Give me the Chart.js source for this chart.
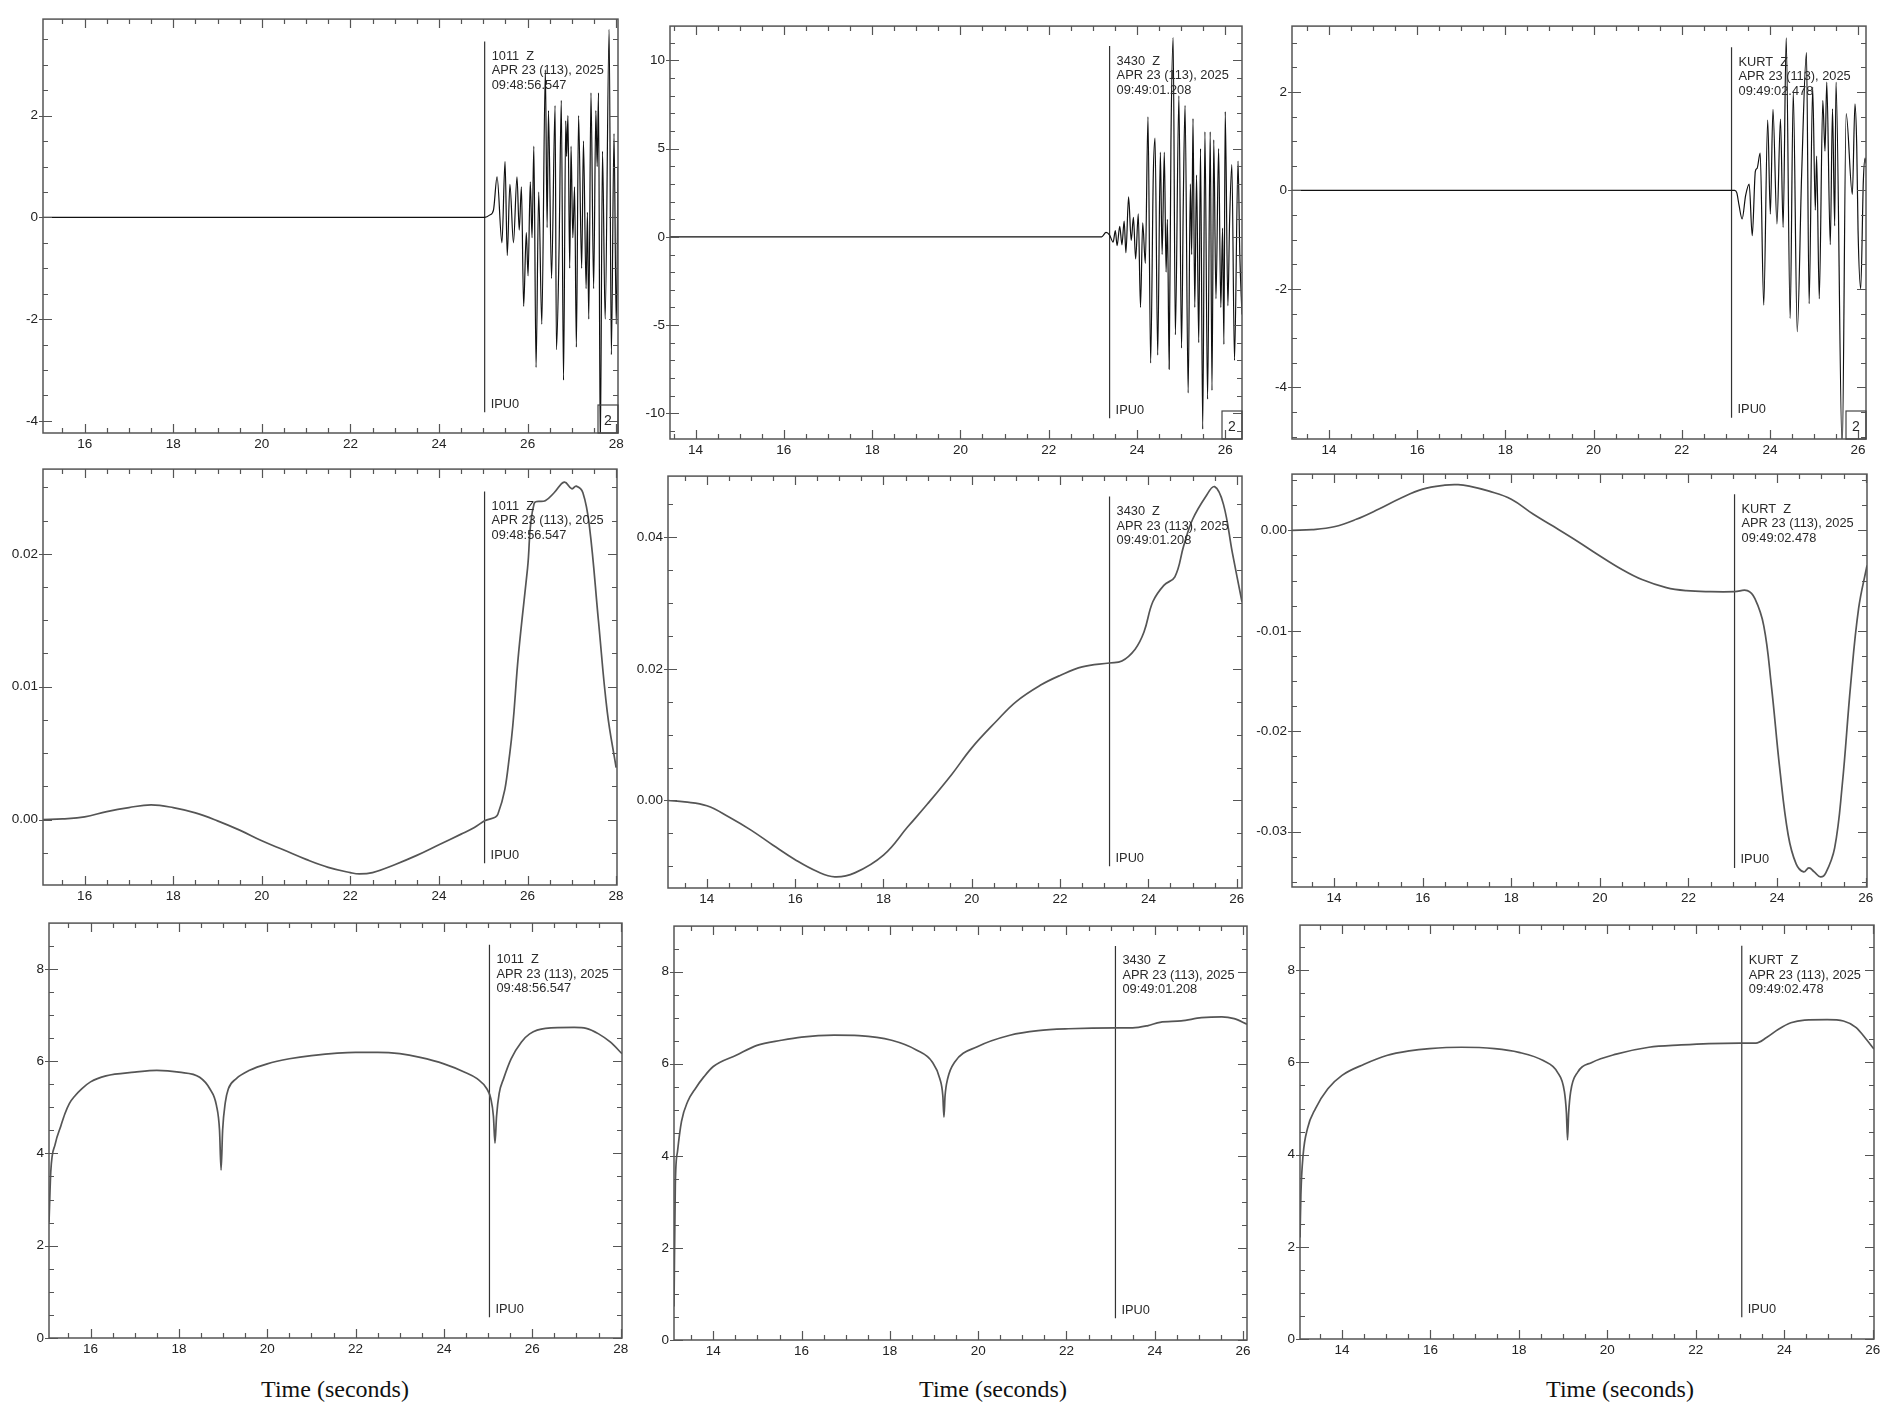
<!DOCTYPE html>
<html>
<head>
<meta charset="utf-8">
<script src="https://cdn.jsdelivr.net/npm/chart.js@4.4.1/dist/chart.umd.min.js"></script>
<style>
html,body{margin:0;padding:0;background:#fff;}
body{width:1898px;height:1415px;position:relative;overflow:hidden;}
.panel{position:absolute;}
.xlabel{position:absolute;font-family:"Liberation Serif","Times New Roman",serif;font-size:24px;color:#111;transform:translate(-50%,-50%);white-space:nowrap;}
</style>
</head>
<body>
<div class="xlabel" style="left:335px;top:1389px">Time (seconds)</div>
<div class="xlabel" style="left:993px;top:1389px">Time (seconds)</div>
<div class="xlabel" style="left:1620px;top:1389px">Time (seconds)</div>
<script>
// ---------------- DATA ----------------
// Header text
const stationNames = ['1011  Z', '3430  Z', 'KURT  Z'];
const dateLine = 'APR 23 (113), 2025';
const pickClock = ['09:48:56.547', '09:49:01.208', '09:49:02.478'];
const phaseLabel = 'IPU0';
const zoomFactorLabel = '2';

// Row 1: raw seismograms
const raw1011T = [15.06, 18.0, 21.0, 24.0, 25.03, 25.15, 25.23, 25.31, 25.42, 25.49, 25.54, 25.6, 25.68, 25.76, 25.81, 25.86, 25.91, 25.97, 26.01, 26.06, 26.1, 26.14, 26.19, 26.25, 26.32, 26.4, 26.44, 26.47, 26.54, 26.62, 26.65, 26.71, 26.76, 26.81, 26.86, 26.88, 26.91, 26.95, 26.98, 27.02, 27.06, 27.1, 27.15, 27.22, 27.26, 27.32, 27.35, 27.38, 27.43, 27.49, 27.54, 27.57, 27.6, 27.64, 27.69, 27.75, 27.84, 27.89, 27.95, 28.0, 28.04];
const raw1011V = [0, 0, 0, 0, 0, 0.05, 0.15, 0.8, -0.5, 1.1, -0.75, 0.65, -0.5, 0.8, -0.25, 0.6, -1.75, -0.3, -1.15, 0.7, -0.4, 1.4, -2.95, 0.5, -2.1, 2.9, -0.2, 2.1, -1.2, 2.2, -2.6, -0.6, 2.3, -3.2, 1.9, 1.2, 2.0, -1.0, 1.4, -0.4, 0.6, -2.55, 2.0, -1.0, 1.5, -1.4, 0.1, -2.0, 2.45, -1.4, 2.1, 1.0, 2.45, -4.6, 1.3, -2.0, 3.7, -2.7, 1.65, -2.1, 1.0];

const raw3430T = [13.42, 16.0, 19.0, 22.0, 23.2, 23.3, 23.38, 23.46, 23.51, 23.55, 23.61, 23.66, 23.71, 23.75, 23.81, 23.87, 23.92, 23.97, 24.03, 24.08, 24.13, 24.19, 24.25, 24.31, 24.37, 24.41, 24.47, 24.53, 24.57, 24.62, 24.66, 24.69, 24.73, 24.77, 24.82, 24.87, 24.95, 25.01, 25.05, 25.09, 25.16, 25.21, 25.24, 25.27, 25.31, 25.35, 25.4, 25.44, 25.49, 25.54, 25.6, 25.66, 25.7, 25.74, 25.79, 25.85, 25.9, 25.94, 25.97, 26.0, 26.06, 26.1, 26.15, 26.21, 26.29, 26.33, 26.38];
const raw3430V = [0, 0, 0, 0, 0, 0.25, 0.1, -0.3, 0.35, -0.5, 0.6, -0.45, 0.9, -0.9, 2.27, -0.2, 1.1, -1.25, 1.3, -4.0, 0.8, -1.5, 6.8, -7.15, 3.5, 5.6, -6.7, 4.8, -1.0, 4.8, -2.0, 1.0, -7.5, 5.3, 11.3, -5.55, 8.0, -6.3, 2.0, 7.45, -8.85, 3.0, -1.0, 6.7, -4.0, 3.5, -6.0, 5.0, -10.9, 5.95, -9.2, 5.95, -8.7, 5.5, -3.5, 5.0, -4.0, 0.5, -6.1, 7.1, -3.9, 1.0, 4.1, -7.0, 4.3, -1.0, -4.4];

const rawKurtT = [13.16, 16.0, 19.0, 22.0, 23.13, 23.2, 23.25, 23.3, 23.37, 23.45, 23.53, 23.6, 23.67, 23.71, 23.78, 23.86, 23.95, 24.01, 24.07, 24.16, 24.24, 24.3, 24.37, 24.46, 24.53, 24.62, 24.72, 24.83, 24.89, 24.97, 25.03, 25.06, 25.12, 25.2, 25.25, 25.29, 25.37, 25.42, 25.47, 25.5, 25.64, 25.73, 25.87, 25.93, 25.97, 26.0, 26.06, 26.12, 26.16, 26.18];
const rawKurtV = [0, 0, 0, 0, 0, 0, -0.05, -0.3, -0.58, -0.1, 0.13, -0.92, 0.39, 0.45, 0.76, -2.33, 1.43, -0.48, 1.65, -0.68, 1.45, -0.75, 3.1, -2.6, 2.0, -2.87, 0.32, 2.8, -2.3, 2.1, -0.4, 0.7, -2.2, 1.83, 0.8, 2.2, -1.1, 1.66, -0.72, 2.2, -5.3, 1.56, -0.08, 1.76, 0.9, -0.82, -2.0, 0.2, 0.66, 0.55];

// Row 2: filtered / integrated traces
const filt1011T = [15.06, 15.5, 16.0, 16.5, 17.0, 17.5, 18.0, 18.5, 19.0, 19.5, 20.0, 20.5, 21.0, 21.5, 22.0, 22.2, 22.5, 23.0, 23.5, 24.0, 24.5, 24.8, 25.03, 25.33, 25.6, 25.8, 26.0, 26.15, 26.4, 26.6, 26.83, 27.0, 27.1, 27.25, 27.4, 27.6, 27.8, 28.0];
const filt1011V = [0.0, 0.00005, 0.0002, 0.0006, 0.0009, 0.0011, 0.0009, 0.0005, -0.0001, -0.0008, -0.0016, -0.0023, -0.003, -0.0036, -0.004, -0.0041, -0.004, -0.0034, -0.0027, -0.0019, -0.0011, -0.0006, -0.0001, 0.0004, 0.005, 0.0126, 0.0189, 0.0238, 0.024, 0.0246, 0.0254, 0.0249, 0.0251, 0.0246, 0.022, 0.015, 0.0081, 0.0039];

const filt3430T = [13.12, 13.5, 14.0, 14.5, 15.0, 15.5, 16.0, 16.5, 16.9, 17.35, 18.0, 18.55, 19.0, 19.55, 20.0, 20.55, 21.0, 21.55, 22.0, 22.5, 23.12, 23.4, 23.7, 23.9, 24.1, 24.35, 24.6, 24.8, 25.0, 25.3, 25.5, 25.7, 25.9, 26.12];
const filt3430V = [0.0, -0.0002, -0.0008, -0.0025, -0.0045, -0.0068, -0.009, -0.0108, -0.0116, -0.011, -0.0083, -0.004, -0.0005, 0.004, 0.008, 0.012, 0.015, 0.0175, 0.019, 0.0203, 0.0209, 0.0212, 0.023, 0.0256, 0.0302, 0.0327, 0.034, 0.0387, 0.0427, 0.0462, 0.0477, 0.045, 0.0377, 0.0302];

const filtKurtT = [13.05, 13.5, 14.0, 14.5, 15.0, 15.5, 16.0, 16.5, 16.8, 17.05, 17.5, 18.0, 18.5, 18.95, 19.5, 19.95, 20.5, 20.95, 21.5, 21.95, 22.5, 23.04, 23.33, 23.5, 23.7, 23.87, 24.06, 24.25, 24.43, 24.6, 24.72, 24.84, 24.98, 25.1, 25.3, 25.47, 25.66, 25.84, 26.03];
const filtKurtV = [0.0, 0.00007, 0.00036, 0.0011, 0.0021, 0.0032, 0.0041, 0.0045, 0.00455, 0.0044, 0.0039, 0.0031, 0.0016, 0.0004, -0.0011, -0.0024, -0.0039, -0.0049, -0.0057, -0.006, -0.0061, -0.0061, -0.006, -0.0068, -0.0095, -0.0154, -0.0237, -0.0303, -0.0332, -0.034, -0.0336, -0.034, -0.0345, -0.0341, -0.0316, -0.0254, -0.0154, -0.0078, -0.0035];

// Row 3: characteristic functions
const cf1011T = [15.06, 15.1, 15.2, 15.33, 15.42, 15.52, 15.65, 15.8, 16.0, 16.35, 17.0, 17.5, 18.0, 18.47, 18.7, 18.85, 18.92, 18.955, 18.99, 19.05, 19.12, 19.3, 19.6, 20.0, 20.5, 21.0, 22.0, 22.5, 23.0, 23.46, 24.0, 24.47, 24.75, 24.97, 25.06, 25.12, 25.155, 25.19, 25.25, 25.35, 25.52, 25.75, 25.94, 26.3, 26.95, 27.22, 27.5, 27.77, 28.03];
const cf1011V = [2.5, 3.6, 4.2, 4.6, 4.86, 5.08, 5.25, 5.4, 5.55, 5.68, 5.76, 5.8, 5.76, 5.65, 5.4, 5.04, 4.5, 3.64, 4.5, 5.1, 5.4, 5.62, 5.8, 5.94, 6.05, 6.12, 6.19, 6.19, 6.16, 6.08, 5.94, 5.76, 5.62, 5.4, 5.19, 4.8, 4.22, 4.8, 5.3, 5.62, 6.05, 6.41, 6.59, 6.71, 6.73, 6.71, 6.59, 6.41, 6.16];

const cf3430T = [13.11, 13.14, 13.19, 13.28, 13.42, 13.6, 13.79, 14.0, 14.53, 14.99, 15.54, 16.0, 16.74, 17.3, 18.04, 18.6, 18.96, 19.13, 19.2, 19.225, 19.25, 19.31, 19.47, 19.98, 20.72, 21.36, 22.05, 23.12, 23.5, 23.85, 24.12, 24.6, 25.06, 25.52, 25.8, 26.09];
const cf3430V = [0.73, 3.39, 4.1, 4.75, 5.18, 5.47, 5.72, 5.94, 6.19, 6.4, 6.51, 6.58, 6.62, 6.61, 6.51, 6.3, 6.04, 5.68, 5.3, 4.84, 5.3, 5.68, 6.04, 6.37, 6.62, 6.72, 6.76, 6.78, 6.78, 6.83, 6.9, 6.93, 7.0, 7.02, 6.98, 6.86];

const cfKurtT = [13.05, 13.07, 13.12, 13.22, 13.4, 13.68, 14.0, 14.5, 15.01, 15.52, 15.98, 16.7, 17.45, 18.0, 18.55, 18.87, 19.03, 19.075, 19.1, 19.125, 19.17, 19.33, 19.65, 20.2, 20.94, 21.67, 22.3, 23.0, 23.36, 23.6, 23.87, 24.15, 24.46, 24.97, 25.34, 25.62, 25.85, 26.03];
const cfKurtV = [2.2, 3.13, 3.99, 4.57, 5.0, 5.43, 5.72, 5.96, 6.15, 6.25, 6.3, 6.33, 6.3, 6.22, 6.04, 5.79, 5.36, 4.9, 4.32, 4.9, 5.36, 5.79, 6.0, 6.18, 6.33, 6.38, 6.41, 6.42, 6.42, 6.54, 6.72, 6.86, 6.92, 6.93, 6.9, 6.76, 6.51, 6.29];

// Axis ranges and ticks per panel (row-major order)
const xMin = [15.06, 13.42, 13.16, 15.06, 13.12, 13.05, 15.06, 13.11, 13.05];
const xMax = [28.04, 26.38, 26.18, 28.02, 26.12, 26.03, 28.03, 26.09, 26.03];
const yMin = [-4.24, -11.46, -5.05, -0.00493, -0.0133, -0.0355, 0, 0, 0];
const yMax = [3.9, 11.95, 3.34, 0.02638, 0.0493, 0.0056, 8.99, 8.99, 8.98];
const xMajorStep = 2;
const xMinorStep = 0.5;
const yMajorStep = [2, 5, 2, 0.01, 0.02, 0.01, 2, 2, 2];
const yMinorStep = [0.5, 1, 0.5, 0.0025, 0.005, 0.0025, 0.5, 0.5, 0.5];
const yDecimals = [0, 0, 0, 2, 2, 2, 0, 0, 0];

// Pick (IPU0) marker per panel
const pickT = [25.03, 23.38, 23.13, 25.03, 23.12, 23.04, 25.03, 23.11, 23.04];
const pickTop = [3.46, 10.82, 2.91, 0.0247, 0.0462, 0.0036, 8.52, 8.56, 8.53];
const pickBot = [-3.83, -10.28, -4.62, -0.0033, -0.01, -0.0336, 0.45, 0.47, 0.47];

const traceT = [raw1011T, raw3430T, rawKurtT, filt1011T, filt3430T, filtKurtT, cf1011T, cf3430T, cfKurtT];
const traceV = [raw1011V, raw3430V, rawKurtV, filt1011V, filt3430V, filtKurtV, cf1011V, cf3430V, cfKurtV];

// ---------------- LAYOUT (plot-area boxes: left, top, right, bottom) ----------------
const panelBox = [
  [43, 16, 618, 433], [670, 23, 1242, 439], [1292, 23, 1866, 439],
  [43, 466, 617, 885], [668, 473, 1242, 888], [1292, 471, 1867, 887],
  [49, 920, 622, 1338], [674, 923, 1247, 1340], [1300, 922, 1874, 1339]
];
const Y_AXIS_W = 50, PAD_T = 10, PAD_R = 12, X_AXIS_H = 26;

Chart.defaults.font.family = '"Liberation Sans", Arial, Helvetica, sans-serif';
Chart.defaults.font.size = 13.5;
Chart.defaults.color = '#222';

function stepList(min, max, step) {
  const out = [];
  const k0 = Math.ceil(min / step - 1e-7), k1 = Math.floor(max / step + 1e-7);
  for (let k = k0; k <= k1; k++) out.push(+(k * step).toFixed(10));
  return out;
}

const seisPlugin = {
  id: 'seis',
  afterDatasetsDraw(chart, args, o) {
    const ctx = chart.ctx, ca = chart.chartArea, xs = chart.scales.x, ys = chart.scales.y;
    ctx.save();
    // frame
    ctx.strokeStyle = '#555';
    ctx.lineWidth = 1.5;
    ctx.strokeRect(ca.left, ca.top, ca.right - ca.left, ca.bottom - ca.top);
    // ticks, inward on all four sides
    ctx.lineWidth = 1.2;
    ctx.beginPath();
    stepList(xs.min, xs.max, o.xMinor).forEach(v => {
      const px = Math.round(xs.getPixelForValue(v)) + 0.5;
      const major = Math.abs(v / o.xMajor - Math.round(v / o.xMajor)) < 1e-6;
      const len = major ? 9 : 5;
      ctx.moveTo(px, ca.bottom); ctx.lineTo(px, ca.bottom - len);
      ctx.moveTo(px, ca.top); ctx.lineTo(px, ca.top + len);
    });
    stepList(ys.min, ys.max, o.yMinor).forEach(v => {
      const py = Math.round(ys.getPixelForValue(v)) + 0.5;
      const major = Math.abs(v / o.yMajor - Math.round(v / o.yMajor)) < 1e-6;
      const len = major ? 9 : 5;
      ctx.moveTo(ca.left - (major ? 4 : 0), py); ctx.lineTo(ca.left + len, py);
      ctx.moveTo(ca.right, py); ctx.lineTo(ca.right - len, py);
    });
    ctx.stroke();
    // header annotation next to the pick line
    const px = xs.getPixelForValue(o.pick);
    const pyTop = ys.getPixelForValue(o.pickTop);
    const pyBot = ys.getPixelForValue(o.pickBot);
    ctx.fillStyle = '#2a2a2a';
    ctx.font = '12.8px "Liberation Sans", Arial, sans-serif';
    ctx.textAlign = 'left';
    ctx.textBaseline = 'middle';
    o.header.forEach((s, i) => ctx.fillText(s, px + 7, pyTop + 15 + i * 14.5));
    ctx.fillText(o.phase, px + 6, pyBot - 8);
    // zoom-factor box
    if (o.box) {
      ctx.lineWidth = 1.2;
      ctx.strokeStyle = '#444';
      ctx.strokeRect(ca.right - 20, ca.bottom - 28, 20, 28);
      ctx.font = '14px "Liberation Sans", Arial, sans-serif';
      ctx.textAlign = 'center';
      ctx.fillText(zoomFactorLabel, ca.right - 10, ca.bottom - 12);
    }
    ctx.restore();
  }
};

for (let i = 0; i < 9; i++) {
  const [L, T, R, B] = panelBox[i];
  const row = Math.floor(i / 3), col = i % 3;
  const cw = R - L + Y_AXIS_W + PAD_R, ch = B - T + PAD_T + X_AXIS_H;
  const div = document.createElement('div');
  div.className = 'panel';
  div.style.left = (L - Y_AXIS_W) + 'px';
  div.style.top = (T - PAD_T) + 'px';
  div.style.width = cw + 'px';
  div.style.height = ch + 'px';
  const cv = document.createElement('canvas');
  cv.width = cw; cv.height = ch;
  cv.style.width = cw + 'px'; cv.style.height = ch + 'px';
  div.appendChild(cv);
  document.body.appendChild(div);

  const pts = traceT[i].map((t, k) => ({ x: t, y: traceV[i][k] }));
  const pickPts = [{ x: pickT[i], y: pickTop[i] }, { x: pickT[i], y: pickBot[i] }];
  const xt = stepList(xMin[i], xMax[i], xMajorStep);
  const yt = stepList(yMin[i], yMax[i], yMajorStep[i]);
  const dec = yDecimals[i];

  new Chart(cv, {
    type: 'line',
    data: {
      datasets: [
        {
          data: pts,
          borderColor: row === 0 ? '#111' : '#555',
          borderWidth: row === 0 ? 1.2 : 1.7,
          pointRadius: 0,
          tension: 0.4,
          cubicInterpolationMode: row === 1 ? 'default' : 'monotone',
          fill: false
        },
        {
          data: pickPts,
          borderColor: '#333',
          borderWidth: 1.2,
          pointRadius: 0,
          tension: 0,
          fill: false
        }
      ]
    },
    options: {
      responsive: false,
      animation: false,
      events: [],
      layout: { padding: { top: PAD_T, right: PAD_R, left: 0, bottom: 0 } },
      plugins: {
        legend: { display: false },
        tooltip: { enabled: false },
        seis: {
          xMajor: xMajorStep, xMinor: xMinorStep,
          yMajor: yMajorStep[i], yMinor: yMinorStep[i],
          pick: pickT[i], pickTop: pickTop[i], pickBot: pickBot[i],
          header: [stationNames[col], dateLine, pickClock[col]],
          phase: phaseLabel,
          box: row === 0
        }
      },
      scales: {
        x: {
          type: 'linear', position: 'bottom',
          min: xMin[i], max: xMax[i],
          grid: { display: false, drawTicks: false },
          border: { display: false },
          ticks: { autoSkip: false, maxRotation: 0, minRotation: 0, padding: 3,
                   callback: v => String(Math.round(v)) },
          afterBuildTicks: s => { s.ticks = xt.map(v => ({ value: v })); },
          afterFit: s => { s.height = X_AXIS_H; }
        },
        y: {
          type: 'linear', position: 'left',
          min: yMin[i], max: yMax[i],
          grid: { display: false, drawTicks: false },
          border: { display: false },
          ticks: { autoSkip: false, padding: 5,
                   callback: v => Number(v).toFixed(dec) },
          afterBuildTicks: s => { s.ticks = yt.map(v => ({ value: v })); },
          afterFit: s => { s.width = Y_AXIS_W; }
        }
      }
    },
    plugins: [seisPlugin]
  });
}
</script>
</body>
</html>
